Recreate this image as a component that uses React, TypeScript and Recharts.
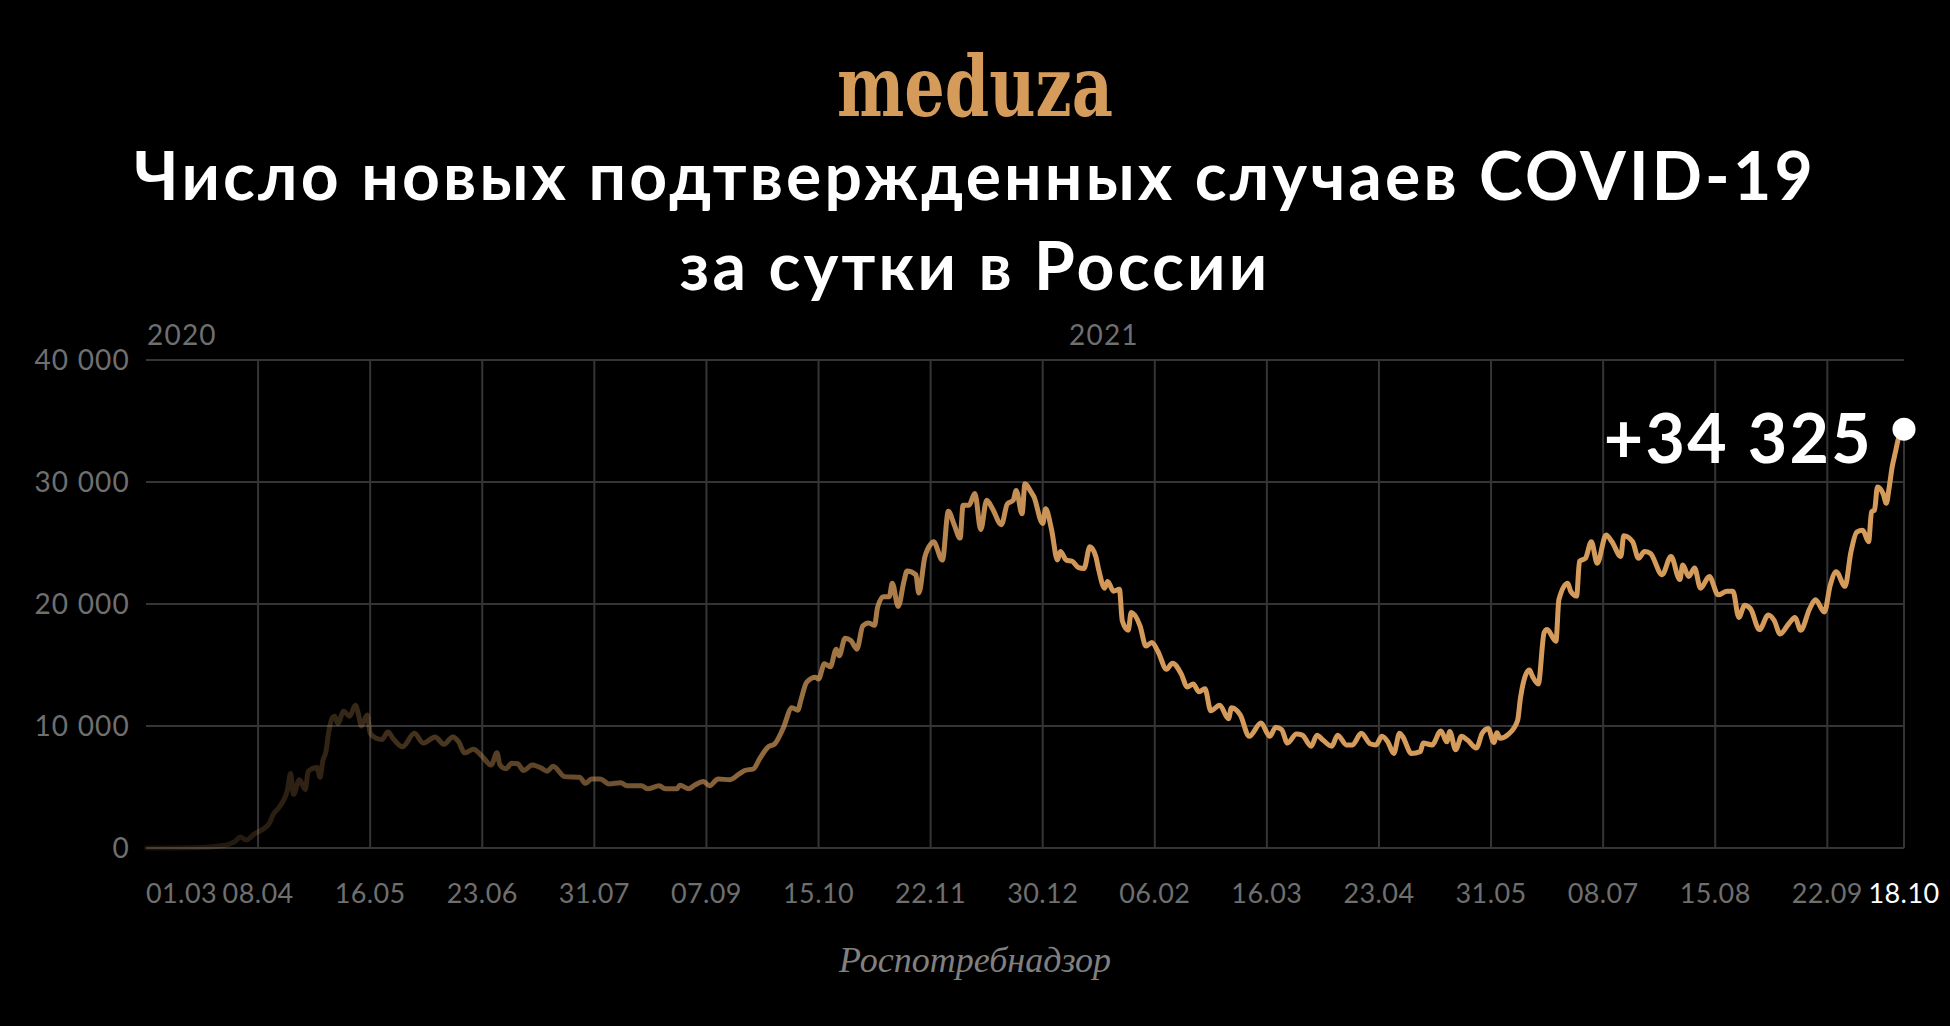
import React from 'react';
import {
  LineChart,
  Line,
  XAxis,
  YAxis,
  CartesianGrid,
  ReferenceLine,
  ReferenceDot,
} from 'recharts';

/* =======================
   Look
======================= */
const W = 1950;
const H = 1026;
const FONT = 'Lato, "Open Sans", sans-serif';
const GRID = '#353535';
const MUTED = '#6f6f6f';
const ACCENT = '#d59b5b';

/* =======================
   Data (days since 01.03.2020, new cases per day)
======================= */
const days = [
  0, 10, 20, 26, 28, 30, 32, 34, 37, 40, 42, 43,
  45, 48, 49, 50, 52, 54, 55, 58, 59, 60, 61, 62,
  63, 64, 65, 67, 69, 71, 72, 73, 75, 76, 78, 80,
  82, 84, 87, 91, 94, 98, 101, 104, 106, 108, 111, 114,
  117, 119, 120, 122, 124, 126, 128, 131, 134, 136, 138, 142,
  147, 149, 151, 154, 157, 161, 163, 168, 170, 174, 176, 180,
  181, 184, 186, 189, 191, 194, 198, 201, 203, 206, 208, 211,
  213, 216, 219, 221, 222, 224, 227, 228, 230, 232, 234, 235,
  237, 239, 241, 243, 245, 247, 248, 250, 252, 253, 255, 257,
  258, 261, 262, 264, 266, 267, 270, 272, 274, 276, 277, 279,
  281, 283, 285, 287, 290, 292, 294, 295, 297, 298, 300, 301,
  304, 305, 307, 309, 310, 312, 314, 316, 318, 320, 322, 323,
  325, 326, 328, 330, 331, 333, 334, 337, 339, 341, 343, 346,
  348, 351, 353, 355, 357, 359, 361, 364, 367, 368, 371, 374,
  378, 381, 383, 385, 387, 390, 392, 395, 397, 399, 402, 404,
  407, 409, 412, 415, 417, 419, 421, 423, 425, 426, 429, 432,
  433, 436, 439, 441, 442, 444, 446, 448, 451, 453, 455, 457,
  458, 459, 462, 465, 466, 469, 470, 472, 474, 475, 478, 479,
  482, 483, 485, 486, 488, 490, 492, 495, 497, 500, 501, 504,
  506, 508, 510, 514, 517, 520, 521, 523, 525, 527, 530, 533,
  536, 538, 540, 542, 544, 547, 550, 552, 554, 557, 559, 561,
  564, 566, 569, 571, 573, 576, 578, 580, 582, 584, 585, 586,
  587, 589, 590, 591, 592, 593, 594, 596,
];

const cases = [
  0, 10, 60, 200, 300, 500, 900, 650, 1200, 1600, 2100, 2700,
  3300, 4800, 6100, 4400, 5600, 4800, 6300, 6600, 5800, 7200, 7900, 9600,
  10600, 10800, 10200, 11200, 10800, 11700, 11000, 10000, 10900, 9400, 9000, 8900,
  9500, 8900, 8300, 9400, 8600, 9100, 8500, 9100, 8700, 7800, 8100, 7500,
  6800, 7800, 6800, 6500, 6950, 6900, 6350, 6800, 6550, 6300, 6700, 5850,
  5800, 5300, 5650, 5650, 5250, 5350, 5100, 5100, 4850, 5100, 4850, 4850,
  5150, 4850, 5150, 5450, 5100, 5650, 5600, 6050, 6350, 6500, 7300, 8300,
  8500, 9800, 11500, 11300, 12100, 13600, 14000, 13850, 15100, 14850, 16300, 15750,
  17200, 17000, 16300, 18200, 18450, 18250, 19700, 20600, 20600, 21700, 19800, 21900,
  22700, 22400, 20900, 23800, 24900, 25100, 23600, 27600, 26500, 25400, 28100, 28100,
  29050, 26100, 28500, 27800, 26500, 28200, 28500, 29300, 27400, 29850, 29200, 28800,
  26600, 27800, 26100, 23600, 24300, 23600, 23500, 23000, 22900, 24700, 23900, 22800,
  21300, 21850, 21050, 21200, 18600, 17850, 19300, 18200, 16550, 16850, 16150, 14650,
  15150, 14250, 13200, 13450, 12800, 13050, 11250, 11700, 10600, 11500, 10900, 9150,
  10250, 9150, 9900, 9700, 8600, 9350, 9250, 8350, 9250, 8850, 8350, 9250,
  8450, 8450, 9400, 8550, 8450, 9150, 8700, 7750, 9400, 9150, 7750, 7900,
  8600, 8450, 9600, 8700, 9550, 8050, 9150, 8850, 8200, 9400, 9800, 8650,
  9450, 9000, 9350, 10450, 12350, 14600, 14100, 13450, 17650, 17900, 16950, 20350,
  21700, 21050, 20650, 23500, 23750, 25100, 23350, 25650, 25100, 23900, 25600, 25100,
  23750, 24300, 24150, 22400, 23900, 22000, 23200, 22250, 22950, 21300, 22250, 20750,
  21050, 21050, 18900, 19900, 19600, 17900, 19100, 18650, 17550, 18400, 18900, 17850,
  19600, 20350, 19350, 21550, 22650, 21450, 24250, 25900, 26050, 25100, 27550, 27700,
  29600, 29000, 28250, 29600, 31250, 32350, 33450, 34325,
];

const tickDays = [0, 38, 76, 114, 152, 190, 228, 266, 304, 342, 380, 418, 456, 494, 532, 570, 596];
const tickLabels = [
  '01.03', '08.04', '16.05', '23.06', '31.07', '07.09', '15.10', '22.11', '30.12',
  '06.02', '16.03', '23.04', '31.05', '08.07', '15.08', '22.09', '18.10',
];
const yTicks = [0, 10000, 20000, 30000, 40000];

const lastDay = days[days.length - 1];
const lastValue = cases[cases.length - 1];

const data = days.map((day, i) => ({ day, cases: cases[i] }));

/* =======================
   Helpers
======================= */
const formatThousands = (v: number) =>
  v === 0 ? '0' : `${Math.floor(v / 1000)} ${String(v % 1000).padStart(3, '0')}`;

const XTick = (props: any) => {
  const { x, y, payload } = props;
  const i = tickDays.indexOf(payload.value);
  const isFirst = i === 0;
  const isLast = i === tickDays.length - 1;
  return (
    <text
      x={x}
      y={y}
      dy="0.71em"
      textAnchor={isFirst ? 'start' : 'middle'}
      fill={isLast ? '#ffffff' : MUTED}
      fontSize={27}
      letterSpacing={0.4}
      fontFamily={FONT}
    >
      {tickLabels[i]}
    </text>
  );
};

const YTick = (props: any) => {
  const { x, y, payload } = props;
  return (
    <text
      x={x}
      y={y}
      dy="0.355em"
      textAnchor="end"
      fill={MUTED}
      fontSize={28}
      letterSpacing={1.2}
      fontFamily={FONT}
    >
      {formatThousands(payload.value)}
    </text>
  );
};

const LastLabel = (props: any) => {
  const { viewBox } = props;
  if (!viewBox) return null;
  const cx = viewBox.x + viewBox.width / 2;
  const cy = viewBox.y + viewBox.height / 2;
  return (
    <text
      x={cx - 31}
      y={cy + 34}
      textAnchor="end"
      fill="#ffffff"
      fontSize={68}
      fontWeight={700}
      letterSpacing={2.3}
      fontFamily={FONT}
    >
      {'+' + formatThousands(lastValue)}
    </text>
  );
};

/* =======================
   Component
======================= */
export default function App() {
  return (
    <div
      style={{
        position: 'absolute',
        left: 0,
        top: 0,
        width: W,
        height: H,
        background: '#000',
        overflow: 'hidden',
      }}
    >
      <svg width={W} height={H} style={{ position: 'absolute', left: 0, top: 0 }}>
        <text
          x={975}
          y={116}
          textAnchor="middle"
          textLength={276}
          lengthAdjust="spacingAndGlyphs"
          fill={ACCENT}
          fontSize={84}
          fontWeight={700}
          fontFamily='"DejaVu Serif", serif'
        >
          meduza
        </text>
        <text
          x={975}
          y={200}
          textAnchor="middle"
          fill="#fff"
          fontSize={66}
          fontWeight={700}
          letterSpacing={3.2}
          fontFamily={FONT}
        >
          Число новых подтвержденных случаев COVID-19
        </text>
        <text
          x={975}
          y={290}
          textAnchor="middle"
          fill="#fff"
          fontSize={66}
          fontWeight={700}
          letterSpacing={3.2}
          fontFamily={FONT}
        >
          за сутки в России
        </text>
        <text x={147} y={345} fill={MUTED} fontSize={28} letterSpacing={1.2} fontFamily={FONT}>
          2020
        </text>
        <text x={1069} y={345} fill={MUTED} fontSize={28} letterSpacing={1.2} fontFamily={FONT}>
          2021
        </text>
        <text
          x={975}
          y={972}
          textAnchor="middle"
          fill="#808080"
          fontSize={36}
          fontStyle="italic"
          fontFamily='"Liberation Serif", serif'
        >
          Роспотребнадзор
        </text>
      </svg>

      <div style={{ position: 'absolute', left: 0, top: 0 }}>
        <LineChart
          width={W}
          height={H}
          data={data}
          margin={{ top: 360, right: 46, bottom: 128, left: 0 }}
        >
          <defs>
            <linearGradient id="lineFade" x1="0" y1="0" x2="1" y2="0">
              <stop offset="0%" stopColor={ACCENT} stopOpacity={0.1} />
              <stop offset="12%" stopColor={ACCENT} stopOpacity={0.26} />
              <stop offset="25%" stopColor={ACCENT} stopOpacity={0.5} />
              <stop offset="42%" stopColor={ACCENT} stopOpacity={0.8} />
              <stop offset="52%" stopColor={ACCENT} stopOpacity={0.97} />
              <stop offset="60%" stopColor={ACCENT} stopOpacity={1} />
            </linearGradient>
          </defs>

          <CartesianGrid vertical={false} stroke={GRID} strokeWidth={2} />

          <XAxis
            dataKey="day"
            type="number"
            domain={[0, lastDay]}
            ticks={tickDays}
            interval={0}
            axisLine={false}
            tickLine={false}
            tickMargin={30}
            height={50}
            tick={<XTick />}
          />
          <YAxis
            type="number"
            domain={[0, 40000]}
            ticks={yTicks}
            width={146}
            axisLine={false}
            tickLine={false}
            tickMargin={10}
            tick={<YTick />}
          />

          {tickDays.slice(1, -1).map((d) => (
            <ReferenceLine key={d} x={d} stroke={GRID} strokeWidth={2} />
          ))}
          <ReferenceLine
            segment={[
              { x: lastDay, y: 0 },
              { x: lastDay, y: lastValue },
            ]}
            stroke={GRID}
            strokeWidth={2}
          />

          <Line
            type="monotone"
            dataKey="cases"
            stroke="url(#lineFade)"
            strokeWidth={5}
            strokeLinejoin="round"
            strokeLinecap="round"
            dot={false}
            isAnimationActive={false}
          />

          <ReferenceDot
            x={lastDay}
            y={lastValue}
            r={11.5}
            fill="#ffffff"
            stroke="none"
            label={<LastLabel />}
          />
        </LineChart>
      </div>
    </div>
  );
}
